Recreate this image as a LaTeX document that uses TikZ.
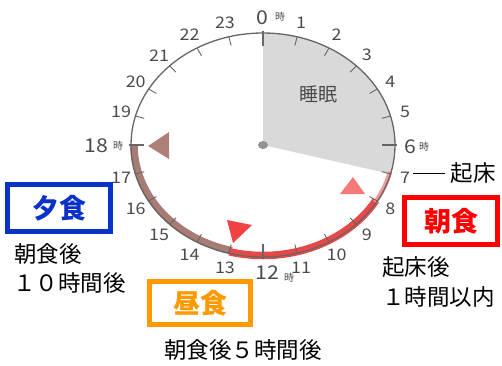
\documentclass[tikz,border=0pt]{standalone}
\usepackage{fontspec}
\setmainfont{Noto Sans CJK JP}
\definecolor{sleepgray}{HTML}{D9D9D9}
\definecolor{numgray}{HTML}{4A4A4A}
\definecolor{rimgray}{HTML}{666666}
\definecolor{bandbrown}{HTML}{A87C74}
\definecolor{bandred}{HTML}{E84848}
\definecolor{bandpink}{HTML}{F49A9A}
\definecolor{tripink}{HTML}{F47A7A}
\definecolor{trired}{HTML}{F04242}
\definecolor{tribrown}{HTML}{AE8078}
\definecolor{mealblue}{HTML}{0A32C8}
\definecolor{mealorange}{HTML}{FF9900}
\definecolor{mealred}{HTML}{FF0000}
\begin{document}
\begin{tikzpicture}[x=1pt,y=-1pt,
  hnum/.style={text=numgray, inner sep=0pt, font=\fontsize{16}{16}\selectfont},
  bignum/.style={text=numgray, inner sep=0pt, font=\fontsize{19}{19}\selectfont},
  jiunit/.style={text=numgray, inner sep=0pt, font=\fontsize{10}{10}\selectfont},
  tickmark/.style={draw=rimgray, line width=0.9pt},
  majortick/.style={draw=rimgray, line width=2.6pt},
  mealbox/.style={line width=4.8pt, inner sep=0pt, font=\fontsize{27}{27}\selectfont\bfseries},
  note/.style={inner sep=0pt, anchor=west, text=black, font=\fontsize{22.5}{22.5}\selectfont}]
\useasboundingbox (0,0) rectangle (502,365);
\def\cx{263}\def\cy{145}\def\rx{132}\def\ry{112}
% sleep sector
\fill[sleepgray] (\cx,\cy) -- plot[domain=0:105,samples=40] ({\cx+\rx*sin(\x)},{\cy-\ry*cos(\x)}) -- cycle;
% bands
\draw[bandbrown, line width=7.5pt] plot[domain=194:270,samples=50] ({\cx+(\rx-3)*sin(\x)},{\cy-(\ry-3)*cos(\x)});
\draw[bandred, line width=7.5pt] plot[domain=120:195,samples=50] ({\cx+(\rx-1.5)*sin(\x)},{\cy-(\ry-1.5)*cos(\x)});
\draw[bandpink, line width=4.5pt] plot[domain=104:121,samples=20] ({\cx+(\rx-1)*sin(\x)},{\cy-(\ry-1)*cos(\x)});
% rim
\draw[rimgray, line width=1.3pt] (\cx,\cy) ellipse [x radius=\rx, y radius=\ry];
% ticks
\foreach \h in {1,...,5,7,8,9,10,11,13,14,15,16,17,19,20,21,22,23}{
  \draw[tickmark] ({\cx+\rx*sin(\h*15)},{\cy-\ry*cos(\h*15)}) -- ({\cx+(\rx-9)*sin(\h*15)},{\cy-(\ry-9)*cos(\h*15)});
}
\foreach \h in {0,6,12,18}{
  \draw[majortick] ({\cx+(\rx+2)*sin(\h*15)},{\cy-(\ry+2)*cos(\h*15)}) -- ({\cx+(\rx-13)*sin(\h*15)},{\cy-(\ry-13)*cos(\h*15)});
}
% hour numbers
\foreach \h in {1,...,5,7,8,9,10,11,13,14,15,16,17,19,20,21,22,23}{
  \node[hnum] (h\h) at ({\cx+147*sin(\h*15)},{\cy-127*cos(\h*15)}) {\scalebox{1.12}[1]{\h}};
}
\node[bignum] (h0) at (262,18) {\scalebox{1.12}[1]{0}};
\node[jiunit] (j0) at (280,17) {時};
\node[bignum] (h6) at (410,147) {\scalebox{1.12}[1]{6}};
\node[jiunit] (j6) at (424,147) {時};
\node[bignum] (h18) at (96,146) {\scalebox{1.12}[1]{18}};
\node[jiunit] (j18) at (118,146) {時};
\node[bignum] (h12) at (267,273) {\scalebox{1.12}[1]{12}};
\node[jiunit] (j12) at (289,278) {時};
% center dot
\fill[gray!85] (\cx,\cy) ellipse [x radius=5, y radius=4];
% sleep label
\node[text=numgray, font=\fontsize{19}{19}\selectfont] (sleep) at (318,94) {睡眠};
% triangles
\fill[tribrown] (148,146) -- (169,132) -- (169,159) -- cycle;
\fill[tripink] (353,177) -- (340,194) -- (365,194) -- cycle;
\fill[trired] (227,220) -- (252,225) -- (233,243) -- cycle;
% wake-up
\node[inner sep=0pt, font=\fontsize{22.5}{22.5}\selectfont] (kisho) at (473,173) {起床};
\draw[black, line width=0.7pt] ([xshift=3pt]h7.east |- kisho.west) -- ([xshift=-5pt]kisho.west);
% meal boxes
\node[mealbox, draw=mealred, text=mealred, minimum width=93pt, minimum height=47pt] (breakfast) at (451,221) {朝食};
\node[mealbox, draw=mealblue, text=mealblue, minimum width=103pt, minimum height=47pt] (dinner) at (59,208) {夕食};
\node[mealbox, draw=mealorange, text=mealorange, minimum width=101pt, minimum height=43pt] (lunch) at (200,303) {昼食};
% notes
\node[note] (bnote1) at (382,267) {起床後};
\node[note] (bnote2) at (382,297) {１時間以内};
\node[note] (dnote1) at (14,254) {朝食後};
\node[note] (dnote2) at (13,283) {１０時間後};
\node[note, anchor=center] (lnote) at (243,350) {朝食後５時間後};
\end{tikzpicture}
\end{document}
